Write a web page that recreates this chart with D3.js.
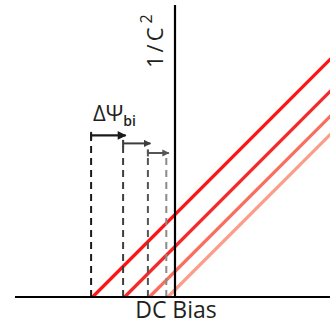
<!DOCTYPE html>
<html><head><meta charset="utf-8">
<script src="https://cdn.jsdelivr.net/npm/d3@7"></script>
<style>html,body{margin:0;padding:0;background:#fff;}svg{display:block;}</style>
</head><body>
<script>
// Data: built-in potential intercepts (V, relative to 0 bias) for four curves
const series = ["s1", "s2", "s3", "s4"];
const intercepts = [-1.03, -0.63, -0.32, -0.09];
const slopes = [1.0, 1.0, 1.0, 1.0];
const lineColors = ["#ff1414", "#f42a2a", "#f7705f", "#fa9e89"];
const dashColors = ["#1a1a1a", "#3d3d3d", "#555555", "#8a8a8a"];
const arrowHeights = [2.02, 1.92, 1.80];
const dashTops = [2.06, 1.96, 1.84, 1.78];
const xLabel = "DC Bias";
const yLabel = "1/C";
const deltaLabel = "ΔΨ";

const W = 330, H = 326;
const svg = d3.select("body").append("svg").attr("width", W).attr("height", H);

const x = d3.scaleLinear().domain([-2, 2]).range([15, 335]);
const y = d3.scaleLinear().domain([0, 3.65]).range([297, 5]);
const xMax = x.invert(W);

// lines
const line = d3.line().x(d => x(d[0])).y(d => y(d[1]));
intercepts.forEach((v0, i) => {
  svg.append("path")
    .datum([[v0, 0], [xMax + 0.2, slopes[i] * (xMax + 0.2 - v0)]])
    .attr("d", line)
    .attr("fill", "none")
    .attr("stroke", lineColors[i])
    .attr("stroke-width", 3.2);
});

// dashed verticals
intercepts.forEach((v0, i) => {
  svg.append("line")
    .attr("x1", x(v0) - 1.5).attr("x2", x(v0) - 1.5)
    .attr("y1", y(0)).attr("y2", y(dashTops[i]))
    .attr("stroke", dashColors[i])
    .attr("stroke-width", 2)
    .attr("stroke-dasharray", "7,5");
});

// arrows
const defs = svg.append("defs");
arrowHeights.forEach((h, i) => {
  defs.append("marker").attr("id", "ah" + i)
    .attr("viewBox", "0 0 10 10").attr("refX", 9).attr("refY", 5)
    .attr("markerWidth", i === 0 ? 4.5 : 4).attr("markerHeight", i === 0 ? 4 : 3.6)
    .attr("markerUnits", "strokeWidth")
    .attr("orient", "auto")
    .append("path").attr("d", "M0,0L10,5L0,10z").attr("fill", dashColors[i]);
  const xa = x(intercepts[i]) - 1.5, xb = x(intercepts[i + 1]) + 1;
  svg.append("line")
    .attr("x1", xa).attr("x2", xb)
    .attr("y1", y(h)).attr("y2", y(h))
    .attr("stroke", dashColors[i]).attr("stroke-width", i === 0 ? 2.2 : 2)
    .attr("marker-end", "url(#ah" + i + ")");
  svg.append("line")
    .attr("x1", xa).attr("x2", xa)
    .attr("y1", y(h) - 3.5).attr("y2", y(h) + 3.5)
    .attr("stroke", dashColors[i]).attr("stroke-width", 2);
});

// axes
svg.append("line").attr("x1", 15).attr("x2", W).attr("y1", y(0)).attr("y2", y(0))
  .attr("stroke", "#000").attr("stroke-width", 2.2);
svg.append("line").attr("x1", x(0)).attr("x2", x(0)).attr("y1", y(3.65)).attr("y2", y(0))
  .attr("stroke", "#000").attr("stroke-width", 2.2);

const font = "'Open Sans', sans-serif";
svg.append("text").attr("x", 176).attr("y", 318)
  .attr("text-anchor", "middle").attr("font-family", font).attr("font-size", 23)
  .attr("fill", "#231f20").text(xLabel);

const yl = svg.append("text")
  .attr("transform", "translate(163,68) rotate(-90)")
  .attr("font-family", font).attr("font-size", 22).attr("fill", "#231f20")
  .attr("letter-spacing", 3);
yl.append("tspan").text(yLabel);
yl.append("tspan").attr("font-size", 16).attr("dy", -11).attr("dx", 1).text("2");

const dl = svg.append("text").attr("x", 93).attr("y", 121)
  .attr("font-family", font).attr("font-size", 22).attr("fill", "#231f20");
dl.append("tspan").text(deltaLabel);
dl.append("tspan").attr("font-size", 14).attr("dy", 5).attr("font-weight", 600).text("bi");
</script>
</body></html>
